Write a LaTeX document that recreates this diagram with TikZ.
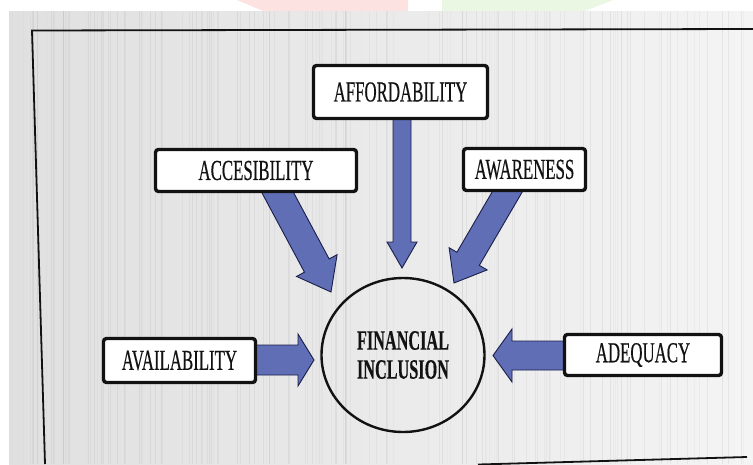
\documentclass[tikz,border=0pt]{standalone}
\usepackage{fontspec}
\usetikzlibrary{calc,shapes.geometric}

\newfontfamily\capfont[FakeStretch=0.58, FakeBold=0.4]{Liberation Serif}

\definecolor{carta}{RGB}{224,224,224}
\definecolor{cartachiara}{RGB}{244,244,244}
\definecolor{rosa}{RGB}{253,226,226}
\definecolor{verdino}{RGB}{234,247,226}
\definecolor{frecciablu}{RGB}{96,110,182}
\definecolor{bordofreccia}{RGB}{26,30,72}
\definecolor{inchiostro}{RGB}{18,18,18}

\tikzset{
  voce/.style={draw=inchiostro, line width=3.4pt, fill=white, rounded corners=3pt,
    inner sep=0pt, text=inchiostro, font=\capfont\fontsize{29}{29}\selectfont},
  freccia/.style={fill=frecciablu, draw=bordofreccia, line width=0.9pt, line join=miter},
}

% freccia a blocco: partenza, punta, mezza asta, mezza punta, lunghezza punta
\newcommand{\frecciona}[5]{%
  \coordinate (fb) at ($(#2)!#5!(#1)$);
  \draw[freccia] ($(#1)!#3!90:(#2)$) -- ($(fb)!#3!90:(#2)$) -- ($(fb)!#4!90:(#2)$)
    -- (#2) -- ($(fb)!#4!-90:(#2)$) -- ($(fb)!#3!-90:(#2)$) -- ($(#1)!#3!-90:(#2)$) -- cycle;
}

\begin{document}
\begin{tikzpicture}[x=1pt, y=-1pt]
\useasboundingbox (0,0) rectangle (753,464);

% Sfondo e foglio
\fill[white] (0,0) rectangle (753,464);
\fill[rosa] (237,0) -- (408,0) -- (408,11) -- (263,11) -- cycle;
\fill[verdino] (442,0) -- (613,0) -- (585,11) -- (442,11) -- cycle;
\shade[left color=carta, right color=cartachiara] (9,11) rectangle (753,464);
\pgfmathsetseed{7}
\foreach \i in {1,...,140} {
  \pgfmathsetmacro{\xs}{9+744*rnd}
  \pgfmathsetmacro{\op}{0.03+0.10*rnd}
  \draw[gray, opacity=\op, line width=0.35pt] (\xs,11) -- (\xs,464);
}

% Cornice
\draw[inchiostro, line width=1.8pt] (753,29) -- (32,30.5) -- (45,464);
\draw[inchiostro, line width=1.8pt] (478,464.5) -- (747,457);

% Punte delle frecce
\coordinate (tip-afford) at (402,268);
\coordinate (tip-access) at (331,292);
\coordinate (tip-aware)  at (454,283);
\coordinate (tip-avail)  at (314,360);
\coordinate (tip-adeq)   at (493,355.5);

% Frecce (sotto ai riquadri)
\frecciona{402,110}{tip-afford}{9pt}{15pt}{26pt}
\frecciona{272,182}{tip-access}{14pt}{23pt}{30pt}
\frecciona{513,182}{tip-aware}{13pt}{22pt}{28pt}
\frecciona{250,360}{tip-avail}{15pt}{26pt}{16pt}
\frecciona{570,355.5}{tip-adeq}{14.5pt}{26.5pt}{19pt}

% Riquadri
\node[voce, minimum width=174pt, minimum height=53pt] (afford) at (400.5,92) {AFFORDABILITY};
\node[voce, minimum width=201pt, minimum height=42pt] (access) at (256,170.5) {ACCESIBILITY};
\node[voce, minimum width=122pt, minimum height=42pt] (aware) at (524.5,169.5) {AWARENESS};
\node[voce, minimum width=152pt, minimum height=44pt] (avail) at (179.5,360.5) {AVAILABILITY};
\node[voce, minimum width=157pt, minimum height=41pt] (adeq) at (643,355) {ADEQUACY};

% Cerchio centrale
\node[ellipse, draw=inchiostro, line width=2.4pt, minimum width=163pt, minimum height=154pt,
  inner sep=0pt, align=center, text=inchiostro,
  font=\capfont\bfseries\fontsize{28}{29}\selectfont] (incl) at (403,355) {FINANCIAL\\INCLUSION};

\end{tikzpicture}
\end{document}
